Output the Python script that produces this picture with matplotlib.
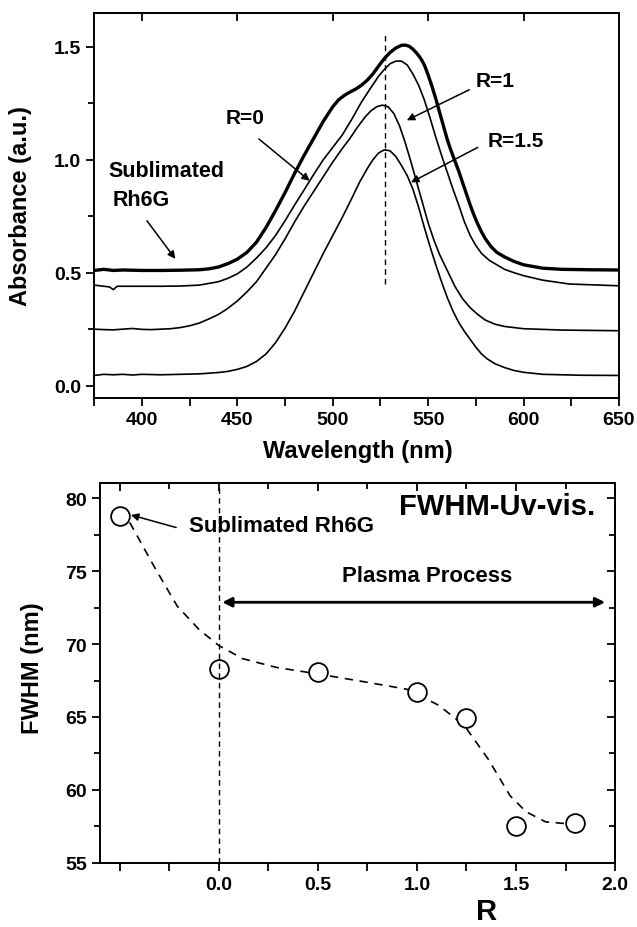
import matplotlib
matplotlib.use("Agg")
import matplotlib.pyplot as plt
from matplotlib.ticker import MultipleLocator, FixedLocator, FormatStrFormatter

plt.rcParams['font.family'] = ['Liberation Sans', 'DejaVu Sans']
plt.rcParams['font.weight'] = 'bold'

# ---------------- Top panel data (UV-vis absorbance) ----------------
wl_sub = [375, 380, 385, 390, 400, 410, 420, 430, 435, 440, 445, 450, 455, 460, 465, 470, 475, 480,
          485, 490, 495, 500, 503, 506, 509, 512, 515, 518, 521, 524, 527, 530, 533, 536, 538, 540,
          542, 544, 546, 548, 550, 552, 554, 556, 558, 560, 562, 564, 566, 568, 570, 572, 574, 576,
          578, 580, 583, 586, 590, 595, 600, 610, 620, 635, 650]
abs_sub = [0.51, 0.515, 0.51, 0.512, 0.51, 0.51, 0.511, 0.513, 0.517, 0.525, 0.54, 0.56, 0.59, 0.635, 0.70, 0.775, 0.855, 0.94,
           1.02, 1.095, 1.17, 1.235, 1.265, 1.285, 1.30, 1.313, 1.33, 1.352, 1.38, 1.415, 1.448, 1.475, 1.495, 1.507, 1.508, 1.503,
           1.49, 1.472, 1.45, 1.42, 1.375, 1.325, 1.27, 1.21, 1.15, 1.09, 1.04, 0.995, 0.95, 0.90, 0.85, 0.80, 0.755, 0.715,
           0.68, 0.65, 0.615, 0.59, 0.57, 0.55, 0.535, 0.52, 0.515, 0.513, 0.512]

wl_r0 = [375, 380, 383, 385, 387, 390, 400, 410, 420, 430, 440, 445, 450, 455, 460, 465, 470, 475,
         480, 485, 490, 495, 500, 505, 510, 515, 520, 524, 527, 530, 533, 536, 539, 542, 545, 548,
         551, 554, 557, 560, 563, 566, 569, 572, 575, 578, 582, 586, 590, 595, 600, 610, 624, 650]
abs_r0 = [0.445, 0.44, 0.437, 0.425, 0.44, 0.44, 0.44, 0.44, 0.441, 0.445, 0.46, 0.475, 0.495, 0.525, 0.565, 0.61, 0.665, 0.73,
          0.80, 0.867, 0.935, 1.0, 1.055, 1.11, 1.18, 1.255, 1.32, 1.37, 1.40, 1.425, 1.437, 1.437, 1.42, 1.38, 1.33, 1.265,
          1.185, 1.10, 1.02, 0.945, 0.87, 0.80, 0.725, 0.665, 0.62, 0.585, 0.555, 0.535, 0.515, 0.50, 0.487, 0.467, 0.45, 0.442]

wl_r1 = [375, 380, 385, 390, 395, 400, 405, 410, 415, 420, 425, 430, 435, 440, 444.5, 450, 455, 460,
         465, 470, 475, 480, 485, 490, 495, 500, 505, 509, 513, 517, 520, 523, 526, 529, 532, 535,
         538, 541, 544, 547, 550, 553, 556, 560, 564, 568, 572, 576, 580, 585, 590, 600, 620, 650]
abs_r1 = [0.25, 0.248, 0.247, 0.25, 0.253, 0.249, 0.248, 0.25, 0.252, 0.257, 0.265, 0.277, 0.295, 0.315, 0.339, 0.375, 0.415, 0.46,
          0.52, 0.58, 0.65, 0.725, 0.795, 0.86, 0.925, 0.99, 1.05, 1.095, 1.145, 1.19, 1.217, 1.235, 1.242, 1.235, 1.205, 1.15,
          1.075, 0.99, 0.90, 0.81, 0.72, 0.645, 0.58, 0.51, 0.44, 0.385, 0.345, 0.315, 0.29, 0.272, 0.262, 0.252, 0.246, 0.243]

wl_r15 = [375, 380, 385, 390, 395, 400, 410, 420, 430, 440, 445, 450, 455, 460, 465, 470, 475, 480,
          485, 490, 495, 500, 505, 510, 514, 518, 521, 524, 527, 530, 533, 536, 539, 542, 545, 548,
          551, 554, 557, 560, 563, 566, 569, 572, 575, 578, 581, 585, 590, 595, 600, 610, 630, 650]
abs_r15 = [0.045, 0.05, 0.048, 0.05, 0.047, 0.05, 0.048, 0.05, 0.052, 0.058, 0.063, 0.072, 0.085, 0.107, 0.14, 0.19, 0.255, 0.33,
           0.415, 0.50, 0.585, 0.665, 0.745, 0.83, 0.90, 0.96, 1.0, 1.03, 1.044, 1.04, 1.015, 0.975, 0.93, 0.87, 0.79, 0.70,
           0.615, 0.535, 0.46, 0.39, 0.33, 0.28, 0.24, 0.205, 0.17, 0.14, 0.118, 0.097, 0.08, 0.067, 0.059, 0.05, 0.046, 0.045]

peak_ref_nm = 527.3
peak_ref_span = [0.45, 1.56]

# ---------------- Bottom panel data (FWHM) ----------------
R_vals = [-0.5, 0.0, 0.5, 1.0, 1.25, 1.5, 1.8]
fwhm_vals = [78.8, 68.3, 68.1, 66.7, 64.9, 57.5, 57.7]

fit_R = [-0.45, -0.33, -0.21, -0.10, 0.0, 0.12, 0.29, 0.50, 0.74, 0.95, 1.11, 1.24, 1.36, 1.47, 1.55, 1.65, 1.78]
fit_fwhm = [78.35, 75.4, 72.6, 71.0, 69.9, 69.0, 68.4, 67.95, 67.4, 66.9, 65.8, 64.4, 62.1, 59.6, 58.5, 57.8, 57.65]

fig = plt.figure(figsize=(6.37, 9.28), dpi=100)
ax1 = fig.add_axes([0.148, 0.570, 0.8237, 0.4149])
ax2 = fig.add_axes([0.157, 0.0693, 0.8085, 0.4091])

spine_lw = 1.4
for ax in (ax1, ax2):
    for s in ax.spines.values():
        s.set_linewidth(spine_lw)

TICK_FS = 14

# ---- top panel ----
ax1.plot(wl_sub, abs_sub, color='black', lw=2.4, solid_joinstyle='round')
ax1.plot(wl_r0, abs_r0, color='black', lw=1.2, solid_joinstyle='round')
ax1.plot(wl_r1, abs_r1, color='black', lw=1.2, solid_joinstyle='round')
ax1.plot(wl_r15, abs_r15, color='black', lw=1.2, solid_joinstyle='round')
ax1.plot([peak_ref_nm, peak_ref_nm], peak_ref_span, color='black', lw=1.0, ls=(0, (4, 3)))

ax1.set_xlim(375, 650)
ax1.set_ylim(-0.055, 1.65)
ax1.xaxis.set_major_locator(MultipleLocator(50))
ax1.xaxis.set_minor_locator(MultipleLocator(25))
ax1.yaxis.set_major_locator(MultipleLocator(0.5))
ax1.yaxis.set_minor_locator(MultipleLocator(0.25))
ax1.yaxis.set_major_formatter(FormatStrFormatter('%.1f'))
ax1.tick_params(axis='both', which='both', direction='out', width=1.3, labelsize=TICK_FS)
ax1.tick_params(axis='x', which='both', length=6, top=False)
ax1.tick_params(axis='y', which='major', length=6)
ax1.tick_params(axis='y', which='minor', length=4)
sec = ax1.secondary_xaxis('top')
sec.set_xticks([400, 450, 500, 550, 600])
sec.tick_params(direction='in', length=6, width=1.3)
sec.set_xticklabels([])
sec.spines['top'].set_linewidth(spine_lw)

ax1.set_xlabel('Wavelength (nm)', fontsize=17, fontweight='bold')
ax1.set_ylabel('Absorbance (a.u.)', fontsize=17, fontweight='bold')
ax1.xaxis.set_label_coords(0.502, -0.136)
ax1.xaxis.label.set_va('center')
ax1.yaxis.set_label_coords(-0.141, 0.50)
ax1.yaxis.label.set_va('center')

ann_kw = dict(arrowprops=dict(arrowstyle='-|>', color='black', lw=1.1, mutation_scale=11,
                              shrinkA=0, shrinkB=0))
ax1.text(454, 1.187, 'R=0', fontsize=15, fontweight='bold', ha='center', va='center')
ax1.annotate('', xy=(487.9, 0.907), xytext=(461.3, 1.092), **ann_kw)
ax1.text(585, 1.35, 'R=1', fontsize=15, fontweight='bold', ha='center', va='center')
ax1.annotate('', xy=(538.8, 1.175), xytext=(571.5, 1.31), **ann_kw)
ax1.text(596, 1.084, 'R=1.5', fontsize=15, fontweight='bold', ha='center', va='center')
ax1.annotate('', xy=(541, 0.90), xytext=(576, 1.055), **ann_kw)
ax1.text(382.6, 0.951, 'Sublimated', fontsize=15.5, fontweight='bold', ha='left', va='center')
ax1.text(384.4, 0.826, 'Rh6G', fontsize=15.5, fontweight='bold', ha='left', va='center')
ax1.annotate('', xy=(417.5, 0.561), xytext=(402.6, 0.730), **ann_kw)

# ---- bottom panel ----
ax2.plot(fit_R, fit_fwhm, color='black', lw=1.2, ls=(0, (5, 4)))
ax2.plot(R_vals, fwhm_vals, ls='none', marker='o', ms=13.5, mfc='white', mec='black', mew=1.3)
ax2.axvline(0.0, color='black', lw=1.0, ls=(0, (4, 3)))

ax2.set_xlim(-0.6, 2.0)
ax2.set_ylim(55, 81.05)
ax2.xaxis.set_major_locator(FixedLocator([-0.5, 0.0, 0.5, 1.0, 1.5, 2.0]))
ax2.xaxis.set_minor_locator(FixedLocator([-0.25, 0.25, 0.75, 1.25, 1.75]))
ax2.set_xticklabels(['', '0.0', '0.5', '1.0', '1.5', '2.0'])
ax2.yaxis.set_major_locator(MultipleLocator(5))
ax2.yaxis.set_minor_locator(MultipleLocator(2.5))
ax2.tick_params(axis='both', which='both', width=1.3, labelsize=TICK_FS)
ax2.tick_params(axis='x', which='both', direction='out', length=6, bottom=True, top=False)
ax2.tick_params(axis='y', which='major', direction='out', length=6, left=True)
ax2.tick_params(axis='y', which='minor', direction='out', length=4, left=True)
secx = ax2.secondary_xaxis('top')
secx.set_xticks([-0.5, 0.0, 0.5, 1.0, 1.5, 2.0])
secx.set_xticks([-0.25, 0.25, 0.75, 1.25, 1.75], minor=True)
secx.tick_params(which='major', direction='in', length=6, width=1.3)
secx.tick_params(which='minor', direction='in', length=4, width=1.3)
secx.set_xticklabels([])
secx.spines['top'].set_linewidth(spine_lw)
secy = ax2.secondary_yaxis('right')
secy.set_yticks([55, 60, 65, 70, 75, 80])
secy.set_yticks([57.5, 62.5, 67.5, 72.5, 77.5], minor=True)
secy.tick_params(which='major', direction='in', length=6, width=1.3)
secy.tick_params(which='minor', direction='in', length=4, width=1.3)
secy.set_yticklabels([])
secy.spines['right'].set_linewidth(spine_lw)

ax2.set_xlabel('R', fontsize=21, fontweight='bold')
ax2.set_ylabel('FWHM (nm)', fontsize=17, fontweight='bold')
ax2.xaxis.set_label_coords(0.75, -0.128)
ax2.xaxis.label.set_va('center')
ax2.yaxis.set_label_coords(-0.131, 0.5146)
ax2.yaxis.label.set_va('center')

ax2.text(1.407, 79.5, 'FWHM-Uv-vis.', fontsize=21, fontweight='bold', ha='center', va='center')
ax2.text(0.316, 78.12, 'Sublimated Rh6G', fontsize=16, fontweight='bold', ha='center', va='center')
ax2.annotate('', xy=(-0.444, 78.86), xytext=(-0.216, 78.0), **ann_kw)
ax2.text(1.052, 74.69, 'Plasma Process', fontsize=16, fontweight='bold', ha='center', va='center')
ax2.annotate('', xy=(0.017, 72.87), xytext=(1.95, 72.87),
             arrowprops=dict(arrowstyle='<|-|>', color='black', lw=2.0, mutation_scale=14,
                             shrinkA=0, shrinkB=0))

fig.savefig('out.png', dpi=100)
